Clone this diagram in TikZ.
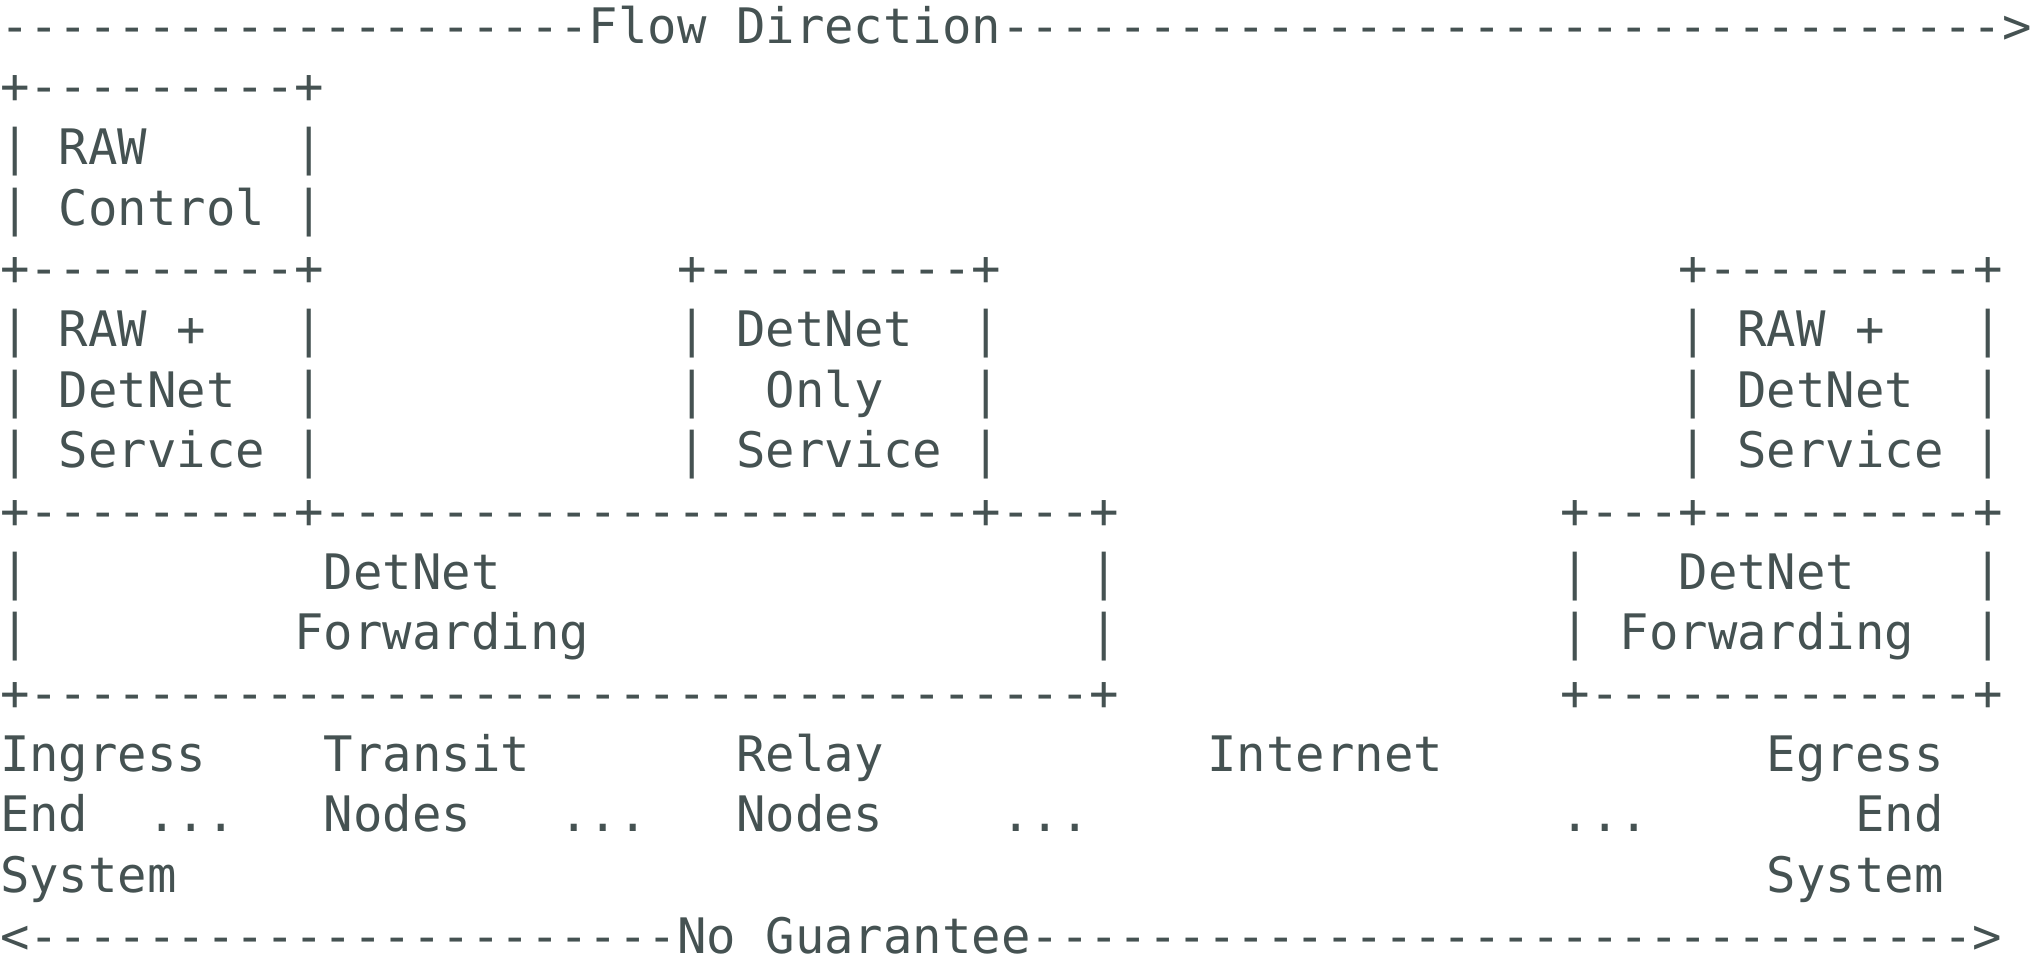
\documentclass[tikz,border=0pt]{standalone}
\usepackage{fontspec}
\setmonofont{DejaVu Sans Mono}
\usepackage{tikz}
\definecolor{ink}{HTML}{455252}
\newlength{\cw}
\AtBeginDocument{\settowidth{\cw}{\ttfamily\fontsize{10}{12}\selectfont M}}
\newcommand{\gap}[1]{\hspace*{#1\cw}}
\newcommand{\dashes}[1]{\foreach \n in {1,...,#1}{-}}

\begin{document}
\begin{tikzpicture}[x=\cw, y=\cw,
	row/.style={anchor=base west, inner sep=0pt, outer sep=0pt, text=ink,
		font=\ttfamily\fontsize{10}{12}\selectfont}]
	\useasboundingbox (0, 0) rectangle (69, -32.665);
	
	%%%%% flow arrow
	\node[row] (flow) at (0, -1.46) {\dashes{20}Flow Direction\dashes{34}>};
	
	%%%%% RAW control box
	\node[row] (ctltop) at (0, -3.52) {+\dashes{9}+};
	\node[row] (ctlraw) at (0, -5.58) {|\gap{1}RAW\gap{5}|};
	\node[row] (ctlctl) at (0, -7.64) {|\gap{1}Control\gap{1}|};
	
	%%%%% service boxes
	\node[row] (svctop) at (0, -9.70) {+\dashes{9}+\gap{12}+\dashes{9}+\gap{23}+\dashes{9}+};
	\node[row] (svcone) at (0, -11.76) {|\gap{1}RAW +\gap{3}|\gap{12}|\gap{1}DetNet\gap{2}|\gap{23}|\gap{1}RAW +\gap{3}|};
	\node[row] (svctwo) at (0, -13.82) {|\gap{1}DetNet\gap{2}|\gap{12}|\gap{2}Only\gap{3}|\gap{23}|\gap{1}DetNet\gap{2}|};
	\node[row] (svcthree) at (0, -15.88) {|\gap{1}Service\gap{1}|\gap{12}|\gap{1}Service\gap{1}|\gap{23}|\gap{1}Service\gap{1}|};
	
	%%%%% forwarding boxes
	\node[row] (fwdtop) at (0, -17.94) {+\dashes{9}+\dashes{22}+\dashes{3}+\gap{15}+\dashes{3}+\dashes{9}+};
	\node[row] (fwdone) at (0, -20.00) {|\gap{10}DetNet\gap{20}|\gap{15}|\gap{3}DetNet\gap{4}|};
	\node[row] (fwdtwo) at (0, -22.06) {|\gap{9}Forwarding\gap{17}|\gap{15}|\gap{1}Forwarding\gap{2}|};
	\node[row] (fwdbot) at (0, -24.12) {+\dashes{36}+\gap{15}+\dashes{13}+};
	
	%%%%% node names
	\node[row] (nameone) at (0, -26.18) {Ingress\gap{4}Transit\gap{7}Relay\gap{11}Internet\gap{11}Egress};
	\node[row] (nametwo) at (0, -28.24) {End\gap{2}...\gap{3}Nodes\gap{3}...\gap{3}Nodes\gap{4}...\gap{16}...\gap{7}End};
	\node[row] (namethree) at (0, -30.30) {System\gap{54}System};
	
	%%%%% guarantee arrow
	\node[row] (noguar) at (0, -32.36) {<\dashes{22}No Guarantee\dashes{32}>};
\end{tikzpicture}
\end{document}
